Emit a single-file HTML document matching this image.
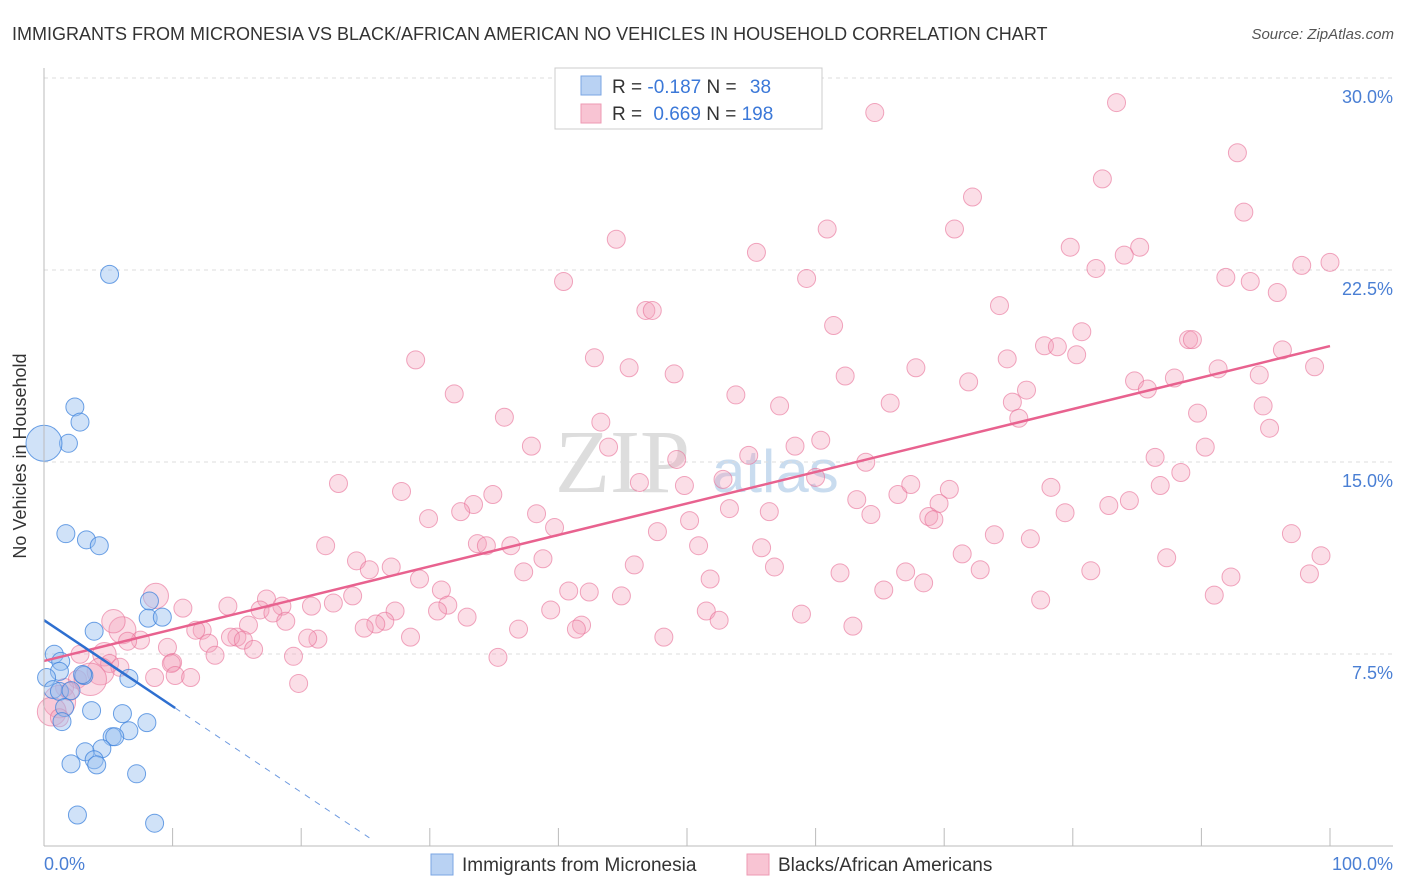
<!DOCTYPE html>
<html><head><meta charset="utf-8"><style>
body{margin:0;background:#fff;font-family:"Liberation Sans",sans-serif;}
#c{position:relative;width:1406px;height:892px;overflow:hidden}
</style></head><body>
<div id="c">
<svg id="s" width="1406" height="892">
<text x="12" y="40" font-size="18" fill="#333">IMMIGRANTS FROM MICRONESIA VS BLACK/AFRICAN AMERICAN NO VEHICLES IN HOUSEHOLD CORRELATION CHART</text>
<text x="1394" y="39" font-size="15" fill="#555" font-style="italic" text-anchor="end">Source: ZipAtlas.com</text>
<text x="26" y="456" font-size="18" fill="#333" text-anchor="middle" transform="rotate(-90 26 456)">No Vehicles in Household</text>
<text x="555" y="492" font-size="90" fill="#ddd" font-family="Liberation Serif">ZIP</text>
<text x="712" y="492" font-size="60" fill="#c9dcef">atlas</text>
<g id="grid"></g><g id="pts"></g><g id="lines"></g>
<line x1="44" y1="68" x2="44" y2="846" stroke="#bbb"/>
<line x1="44" y1="846" x2="1393" y2="846" stroke="#bbb"/>
<text x="44" y="870" font-size="18" fill="#4a7fd4">0.0%</text>
<text x="1393" y="870" font-size="18" fill="#4a7fd4" text-anchor="end">100.0%</text>
<g>
<rect x="555" y="68" width="267" height="61" fill="#fff" stroke="#ccc"/>
<rect x="581" y="76" width="20" height="19" fill="#b9d2f3" stroke="#7aa5e3"/>
<rect x="581" y="104" width="20" height="19" fill="#f8c4d3" stroke="#ee9ab3"/>
<text x="612" y="93" font-size="19" fill="#333">R = <tspan fill="#3b78d8">-0.187</tspan>   N = <tspan fill="#3b78d8" dx="8">38</tspan></text>
<text x="612" y="120" font-size="19" fill="#333">R = <tspan fill="#3b78d8" dx="6">0.669</tspan>   N = <tspan fill="#3b78d8">198</tspan></text>
</g>
<g>
<rect x="431" y="854" width="22" height="21" fill="#b9d2f3" stroke="#7aa5e3"/>
<text x="462" y="871" font-size="19" fill="#333">Immigrants from Micronesia</text>
<rect x="747" y="854" width="22" height="21" fill="#f8c4d3" stroke="#ee9ab3"/>
<text x="778" y="871" font-size="19" fill="#333">Blacks/African Americans</text>
</g>
</svg></div>
<script>
const yTicks=[7.5,15,22.5,30];
const yTickLabels=["7.5%","15.0%","22.5%","30.0%"];
const xTicks=[10,20,30,40,50,60,70,80,90,100];
const blueTrend=[[0,8.82],[10.2,5.39],[25.3,0.32]];
const pinkTrend=[[0,7.23],[100,19.53]];
const bluePts=[[5.1,22.33],[2.4,17.15],[2.8,16.56],[1.9,15.73],[0,15.73,2],[1.7,12.2],[3.3,11.96],[4.3,11.73],[8.2,9.57],[8.1,8.9],[9.2,8.94],[3.9,8.39],[0.8,7.49],[1.3,7.21],[1.2,6.82],[0.2,6.58],[0.7,6.11],[1.2,6.04],[3.1,6.66],[6.6,6.55],[2.1,6.07],[3.0,6.7],[1.6,5.41],[3.7,5.29],[6.1,5.17],[1.4,4.86],[8.0,4.82],[6.6,4.5],[5.3,4.27],[5.5,4.27],[4.5,3.8],[3.2,3.68],[2.1,3.21],[3.9,3.37],[4.1,3.17],[7.2,2.82],[2.6,1.21],[8.6,0.89]];
const pinkPts=[[64.6,28.65],[83.4,29.04],[92.8,27.08],[82.3,26.06],[93.3,24.76],[72.2,25.35],[44.5,23.7],[60.9,24.1],[70.8,24.1],[55.4,23.19],[79.8,23.39],[85.2,23.39],[84.0,23.08],[81.8,22.56],[97.8,22.68],[100,22.8],[40.4,22.05],[59.3,22.17],[91.9,22.21],[93.8,22.05],[95.9,21.62],[46.8,20.92],[47.3,20.92],[74.3,21.11],[61.4,20.33],[80.7,20.09],[89.0,19.78],[89.3,19.78],[77.8,19.54],[78.8,19.5],[80.3,19.19],[96.3,19.38],[28.9,18.99],[42.8,19.07],[74.9,19.03],[45.5,18.68],[67.8,18.68],[98.8,18.72],[49.0,18.44],[62.3,18.36],[71.9,18.13],[84.8,18.17],[85.8,17.85],[87.9,18.28],[91.3,18.64],[94.5,18.4],[31.9,17.66],[53.8,17.62],[76.4,17.81],[65.8,17.3],[57.2,17.19],[75.3,17.34],[89.7,16.91],[94.8,17.19],[35.8,16.75],[75.8,16.71],[43.3,16.56],[95.3,16.32],[37.9,15.62],[43.9,15.58],[60.4,15.85],[90.3,15.58],[49.2,15.1],[54.8,15.26],[58.4,15.62],[86.4,15.18],[63.9,14.99],[22.9,14.16],[46.3,14.2],[49.8,14.08],[52.8,14.32],[60.0,14.4],[88.4,14.59],[27.8,13.85],[34.9,13.73],[66.4,13.73],[67.4,14.12],[78.3,14.01],[86.8,14.08],[70.4,13.93],[33.4,13.34],[32.4,13.06],[53.3,13.18],[63.2,13.53],[69.6,13.38],[84.4,13.49],[82.8,13.3],[29.9,12.79],[38.3,12.98],[50.2,12.71],[56.4,13.06],[64.3,12.95],[79.4,13.02],[68.8,12.87],[69.2,12.75],[39.7,12.44],[47.7,12.28],[21.9,11.73],[33.7,11.81],[34.4,11.73],[36.3,11.73],[50.9,11.73],[55.8,11.65],[73.9,12.16],[76.7,12.0],[97.0,12.2],[24.3,11.14],[38.8,11.22],[25.3,10.79],[27.0,10.9],[87.3,11.26],[99.3,11.34],[71.4,11.41],[37.3,10.71],[45.9,10.98],[56.8,10.9],[61.9,10.67],[67.0,10.71],[72.8,10.79],[81.4,10.75],[92.3,10.51],[98.4,10.63],[29.2,10.43],[30.9,10.0],[40.8,9.96],[42.4,9.92],[51.8,10.43],[24.0,9.77],[65.3,10.0],[68.4,10.28],[91.0,9.8],[77.5,9.61],[8.7,9.77,1.4],[17.3,9.65],[18.5,9.37],[20.8,9.37],[22.5,9.49],[31.4,9.41],[14.3,9.37],[10.8,9.29],[16.8,9.22],[39.4,9.22],[44.9,9.77],[27.3,9.18],[30.6,9.18],[32.9,8.94],[51.5,9.18],[58.9,9.06],[17.8,9.1],[18.8,8.78],[26.5,8.78],[25.8,8.67],[24.9,8.51],[52.5,8.82],[41.8,8.63],[12.3,8.43],[11.8,8.43],[15.9,8.63],[36.9,8.47],[41.4,8.47],[62.9,8.59],[6.1,8.43,1.5],[5.4,8.78,1.3],[15.0,8.16],[14.5,8.16],[12.8,7.92],[15.5,8.04],[21.3,8.08],[20.5,8.12],[28.5,8.16],[48.2,8.16],[7.5,8.04],[6.5,8.0],[9.6,7.76],[10.0,7.17],[16.3,7.68],[13.3,7.45],[19.4,7.41],[35.3,7.37],[2.8,7.49],[4.7,7.49,1.3],[5.1,7.13],[5.9,6.98],[4.4,6.82,1.5],[9.9,7.13],[10.2,6.66],[8.6,6.58],[11.4,6.58],[19.8,6.35],[2.6,6.51],[3.6,6.51,1.8],[1.6,6.19],[1.2,5.64,1.8],[0.6,5.25,1.6],[1.2,5.01],[2.0,6.04]];
const NS='http://www.w3.org/2000/svg';
const X0=44,XW=12.86,Y0=846,YH=25.6;
function sx(v){return X0+v*XW;}
function sy(v){return Y0-v*YH;}
const grid=document.getElementById('grid');
yTicks.forEach((t,i)=>{
 const l=document.createElementNS(NS,'line');
 l.setAttribute('x1',X0);l.setAttribute('x2',1393);l.setAttribute('y1',sy(t));l.setAttribute('y2',sy(t));
 l.setAttribute('stroke','#ddd');l.setAttribute('stroke-dasharray','4,4');
 
 
 grid.appendChild(l);
 const tx=document.createElementNS(NS,'text');
 tx.setAttribute('x',1393);tx.setAttribute('y',sy(t)+25);tx.setAttribute('text-anchor','end');
 tx.setAttribute('font-size','18');tx.setAttribute('fill','#4a7fd4');tx.textContent=yTickLabels[i];
 
 
 grid.appendChild(tx);
});
xTicks.forEach(t=>{
 const l=document.createElementNS(NS,'line');
 l.setAttribute('x1',sx(t));l.setAttribute('x2',sx(t));l.setAttribute('y1',828);l.setAttribute('y2',846);
 l.setAttribute('stroke','#bbb');
 
 
 grid.appendChild(l);
});
const pts=document.getElementById('pts');
function dot(p,fill,stroke,name){
 const c=document.createElementNS(NS,'circle');
 c.setAttribute('cx',sx(p[0]));c.setAttribute('cy',sy(p[1]));c.setAttribute('r',9*(p[2]||1));
 c.setAttribute('fill',fill);c.setAttribute('stroke',stroke);c.setAttribute('stroke-width','1');
 
 
 pts.appendChild(c);
}
pinkPts.forEach(p=>dot(p,'rgba(244,160,185,0.35)','rgba(232,110,150,0.6)','point-black'));
bluePts.forEach(p=>dot(p,'rgba(150,190,240,0.45)','rgba(60,130,220,0.75)','point-micronesia'));
const lines=document.getElementById('lines');
function seg(a,b,col,w,dash,name){
 const l=document.createElementNS(NS,'line');
 l.setAttribute('x1',sx(a[0]));l.setAttribute('y1',sy(a[1]));l.setAttribute('x2',sx(b[0]));l.setAttribute('y2',sy(b[1]));
 l.setAttribute('stroke',col);l.setAttribute('stroke-width',w);if(dash)l.setAttribute('stroke-dasharray',dash);
 
 
 lines.appendChild(l);
}
seg(pinkTrend[0],pinkTrend[1],'#e8628f',2.5,null,'trend-black');
seg(blueTrend[0],blueTrend[1],'#2e6fd0',2.5,null,'trend-micronesia');
seg(blueTrend[1],blueTrend[2],'#6f9be0',1,'6,6','trend-micronesia-extrapolated');
</script>
</body></html>
